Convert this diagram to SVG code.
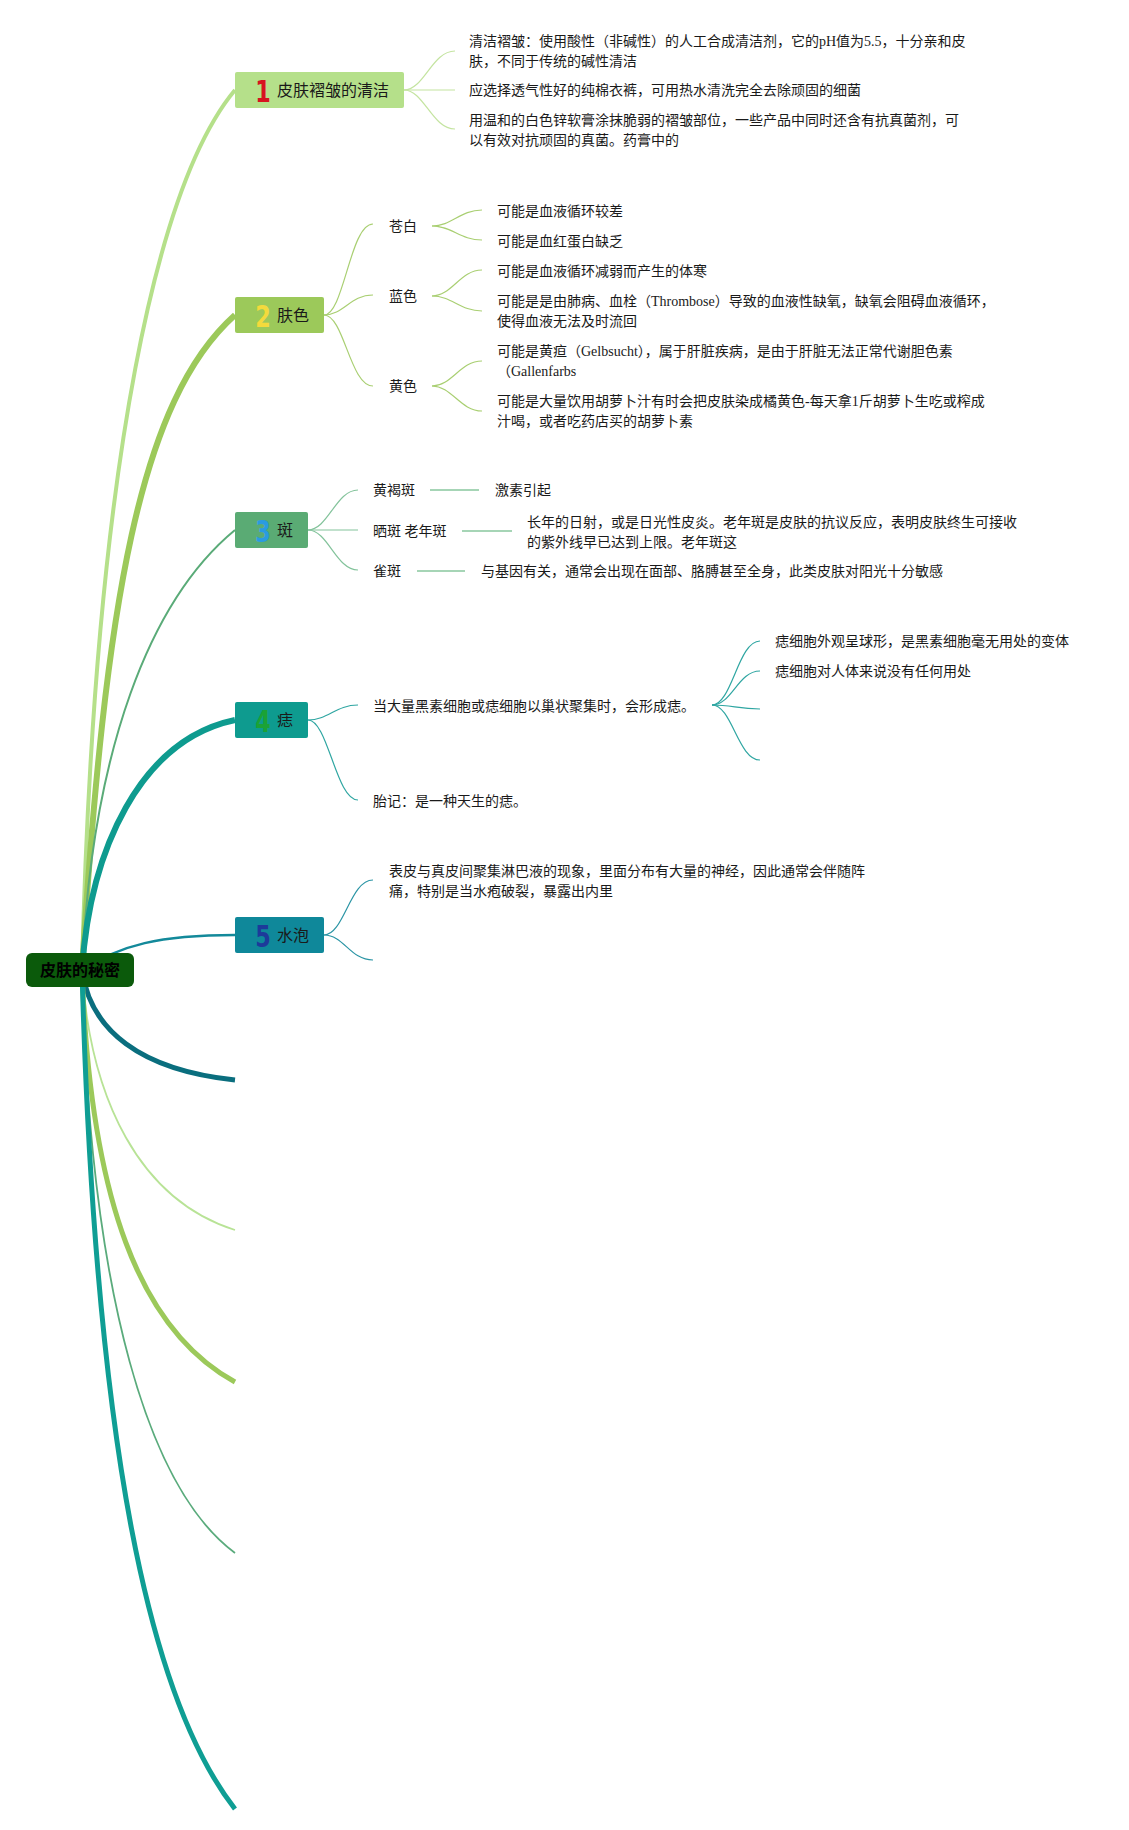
<svg xmlns="http://www.w3.org/2000/svg" width="1129" height="1830" viewBox="0 0 1129 1830">
<style>
.t{font-family:'Liberation Serif','Noto Sans CJK SC',serif;font-size:14px;fill:#1a1a1a}
.lbl{font-family:'Noto Sans CJK SC','Liberation Sans',sans-serif;font-size:16px;fill:#1a1a1a}
.rootlbl{font-family:'Noto Sans CJK SC','Liberation Sans',sans-serif;font-size:16px;font-weight:bold;fill:#000000}
.num{font-family:'DejaVu Sans','Liberation Sans',sans-serif;font-weight:bold;font-size:31px;text-anchor:middle}
.br{fill:none;stroke-linecap:butt}
.c{fill:none;stroke-width:1.2}
.c1{stroke:#c4e4a0}.c2{stroke:#a9cf72}.c3{stroke:#83c39b}.c4{stroke:#2fa6a2}.c5{stroke:#2b95a5}
</style>
<rect width="1129" height="1830" fill="#ffffff"/>
<g id="connectors">
<path class="br" d="M82 970 C95 450,160 180,235 90" stroke="#b5e08a" stroke-width="4"/>
<path class="br" d="M82 970 C105 600,140 400,235 315" stroke="#9cc95a" stroke-width="6"/>
<path class="br" d="M82 970 C92 750,150 600,235 530" stroke="#5aab78" stroke-width="2"/>
<path class="br" d="M82 970 C90 850,140 740,235 720" stroke="#0e9b8f" stroke-width="6"/>
<path class="br" d="M82 970 C120 945,160 935,235 935" stroke="#13899a" stroke-width="2.5"/>
<path class="br" d="M82 970 C90 1030,140 1070,235 1080" stroke="#0a6e7e" stroke-width="5"/>
<path class="br" d="M82 970 C90 1100,140 1200,235 1230" stroke="#b8e396" stroke-width="1.8"/>
<path class="br" d="M82 970 C90 1200,140 1330,235 1382" stroke="#9cc95a" stroke-width="5"/>
<path class="br" d="M82 970 C90 1300,150 1490,235 1553" stroke="#5aab7c" stroke-width="1.8"/>
<path class="br" d="M82 970 C95 1450,150 1700,235 1809" stroke="#0f9e94" stroke-width="5"/>
<!-- topic 1 -->
<path class="c c1" d="M404 90 C424 90,432 51,455 51"/>
<path class="c c1" d="M404 90 L455 90"/>
<path class="c c1" d="M404 90 C424 90,432 129,455 129"/>
<!-- topic 2 -->
<path class="c c2" d="M324 315 C344 315,350 224,373 224"/>
<path class="c c2" d="M324 315 C344 315,350 295,373 295"/>
<path class="c c2" d="M324 315 C344 315,350 386,373 386"/>
<path class="c c2" d="M432 226 C452 226,460 210,482 210"/>
<path class="c c2" d="M432 226 C452 226,460 240,482 240"/>
<path class="c c2" d="M432 296 C452 296,460 270,482 270"/>
<path class="c c2" d="M432 296 C452 296,460 311,482 311"/>
<path class="c c2" d="M432 386 C452 386,460 361,482 361"/>
<path class="c c2" d="M432 386 C452 386,460 411,482 411"/>
<!-- topic 3 -->
<path class="c c3" d="M308 530 C328 530,336 490,358 490"/>
<path class="c c3" d="M308 530 L358 530"/>
<path class="c c3" d="M308 530 C328 530,336 570,358 570"/>
<path fill="none" stroke="#a6d5b6" stroke-width="2" d="M430 490 L479 490 M462 531 L512 531 M417 571 L465 571"/>
<!-- topic 4 -->
<path class="c c4" d="M308 720 C328 720,336 705,358 705"/>
<path class="c c4" d="M308 720 C328 720,336 800,358 800"/>
<path class="c c4" d="M712 705 C732 705,738 641,760 641"/>
<path class="c c4" d="M712 705 C732 705,738 671,760 671"/>
<path class="c c4" d="M712 705 C732 705,738 709,760 709"/>
<path class="c c4" d="M712 705 C732 705,738 760,760 760"/>
<!-- topic 5 -->
<path class="c c5" d="M324 935 C344 935,350 880,373 880"/>
<path class="c c5" d="M324 935 C344 935,350 960,373 960"/>
</g>
<g id="root">
<rect x="26" y="953" width="108" height="34" rx="6" fill="#0b5a0b"/>
<text class="rootlbl" x="80" y="976" text-anchor="middle">皮肤的秘密</text>
</g>
<g id="topic1">
<rect x="235" y="72" width="169" height="36" rx="2" fill="#b5e08a"/>
<text class="num" transform="translate(263 102) scale(0.72 1)" fill="#d7141f">1</text>
<text class="lbl" x="277" y="96">皮肤褶皱的清洁</text>
</g>
<g id="topic1-children">
<text class="t" x="469" y="46">清洁褶皱：使用酸性（非碱性）的人工合成清洁剂，它的pH值为5.5，十分亲和皮</text>
<text class="t" x="469" y="66">肤，不同于传统的碱性清洁</text>
<text class="t" x="469" y="95">应选择透气性好的纯棉衣裤，可用热水清洗完全去除顽固的细菌</text>
<text class="t" x="469" y="125">用温和的白色锌软膏涂抹脆弱的褶皱部位，一些产品中同时还含有抗真菌剂，可</text>
<text class="t" x="469" y="145">以有效对抗顽固的真菌。药膏中的</text>
</g>
<g id="topic2">
<rect x="235" y="297" width="89" height="36" rx="2" fill="#9cc95a"/>
<text class="num" transform="translate(263 327) scale(0.72 1)" fill="#f3da3c">2</text>
<text class="lbl" x="277" y="321">肤色</text>
</g>
<g id="topic2-children">
<text class="t" x="389" y="231">苍白</text>
<text class="t" x="389" y="301">蓝色</text>
<text class="t" x="389" y="391">黄色</text>
<text class="t" x="497" y="216">可能是血液循环较差</text>
<text class="t" x="497" y="246">可能是血红蛋白缺乏</text>
<text class="t" x="497" y="276">可能是血液循环减弱而产生的体寒</text>
<text class="t" x="497" y="306">可能是是由肺病、血栓（Thrombose）导致的血液性缺氧，缺氧会阻碍血液循环，</text>
<text class="t" x="497" y="326">使得血液无法及时流回</text>
<text class="t" x="497" y="356">可能是黄疸（Gelbsucht），属于肝脏疾病，是由于肝脏无法正常代谢胆色素</text>
<text class="t" x="497" y="376">（Gallenfarbs</text>
<text class="t" x="497" y="406">可能是大量饮用胡萝卜汁有时会把皮肤染成橘黄色-每天拿1斤胡萝卜生吃或榨成</text>
<text class="t" x="497" y="426">汁喝，或者吃药店买的胡萝卜素</text>
</g>
<g id="topic3">
<rect x="235" y="512" width="73" height="36" rx="2" fill="#5aab74"/>
<text class="num" transform="translate(263 542) scale(0.72 1)" fill="#2a9be0">3</text>
<text class="lbl" x="277" y="536">斑</text>
</g>
<g id="topic3-children">
<text class="t" x="373" y="495">黄褐斑</text>
<text class="t" x="495" y="495">激素引起</text>
<text class="t" x="373" y="536">晒斑 老年斑</text>
<text class="t" x="527" y="527">长年的日射，或是日光性皮炎。老年斑是皮肤的抗议反应，表明皮肤终生可接收</text>
<text class="t" x="527" y="547">的紫外线早已达到上限。老年斑这</text>
<text class="t" x="373" y="576">雀斑</text>
<text class="t" x="481" y="576">与基因有关，通常会出现在面部、胳膊甚至全身，此类皮肤对阳光十分敏感</text>
</g>
<g id="topic4">
<rect x="235" y="702" width="73" height="36" rx="2" fill="#0e9b8f"/>
<text class="num" transform="translate(263 732) scale(0.72 1)" fill="#1ba236">4</text>
<text class="lbl" x="277" y="726">痣</text>
</g>
<g id="topic4-children">
<text class="t" x="373" y="711">当大量黑素细胞或痣细胞以巢状聚集时，会形成痣。</text>
<text class="t" x="775" y="646">痣细胞外观呈球形，是黑素细胞毫无用处的变体</text>
<text class="t" x="775" y="676">痣细胞对人体来说没有任何用处</text>
<text class="t" x="373" y="806">胎记：是一种天生的痣。</text>
</g>
<g id="topic5">
<rect x="235" y="917" width="89" height="36" rx="2" fill="#0f889a"/>
<text class="num" transform="translate(263 947) scale(0.72 1)" fill="#1d3a9a">5</text>
<text class="lbl" x="277" y="941">水泡</text>
</g>
<g id="topic5-children">
<text class="t" x="389" y="876">表皮与真皮间聚集淋巴液的现象，里面分布有大量的神经，因此通常会伴随阵</text>
<text class="t" x="389" y="896">痛，特别是当水疱破裂，暴露出内里</text>
</g>
</svg>
